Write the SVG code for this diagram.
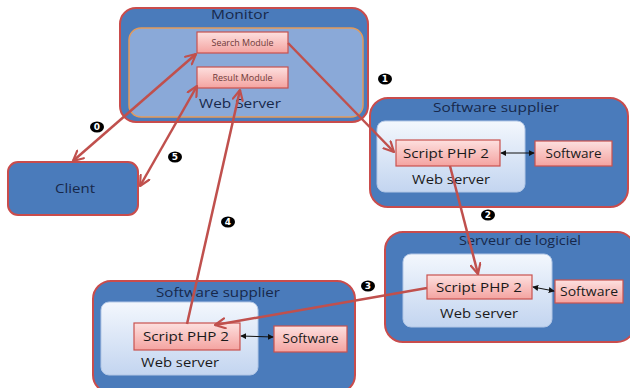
<svg xmlns="http://www.w3.org/2000/svg" width="630" height="388" viewBox="0 0 630 388">
  <defs>
    <linearGradient id="pinkFill" x1="0" y1="0" x2="0" y2="1">
      <stop offset="0" stop-color="#fde0df"/>
      <stop offset="1" stop-color="#f4a3a0"/>
    </linearGradient>
    <linearGradient id="lightFill" x1="0" y1="0" x2="0" y2="1">
      <stop offset="0" stop-color="#f3f7fd"/>
      <stop offset="1" stop-color="#c3d5f0"/>
    </linearGradient>
    <marker id="head" viewBox="0 0 12 12" refX="11" refY="6" markerWidth="12" markerHeight="12" markerUnits="userSpaceOnUse" orient="auto-start-reverse">
      <path d="M1,1 L11,6 L1,11" fill="none" stroke="#c0504d" stroke-width="2.2" stroke-linecap="round" stroke-linejoin="round"/>
    </marker>
    <marker id="tip" viewBox="0 0 8 8" refX="7" refY="4" markerWidth="6" markerHeight="6" markerUnits="userSpaceOnUse" orient="auto-start-reverse">
      <path d="M0,0 L8,4 L0,8 Z" fill="#111"/>
    </marker>
  </defs>
  <style>
    .outer { fill: #4a7bbb; stroke: #c94c4c; stroke-width: 2; }
    .monInner { fill: #8aa9d8; stroke: #e39a5a; stroke-width: 1.5; }
    .inner { fill: url(#lightFill); stroke: #b2c7e6; stroke-width: 1; }
    .pink { fill: url(#pinkFill); stroke: #c9524f; stroke-width: 1.2; }
    .title { font-family: "Open Sans", "Liberation Sans", sans-serif; font-size: 13px; fill: #17284a; text-anchor: middle; }
    .lbl { font-family: "Open Sans", "Liberation Sans", sans-serif; font-size: 12.5px; fill: #1a1a1a; text-anchor: middle; }
    .small { font-family: "Open Sans", "Liberation Sans", sans-serif; font-size: 8.5px; fill: #6e3a38; text-anchor: middle; }
    .conn { stroke: #c0504d; stroke-width: 2.5; fill: none; }
    .thin { stroke: #111; stroke-width: 1; fill: none; }
    .num { font-family: "DejaVu Sans", "Liberation Sans", sans-serif; font-size: 9px; font-weight: bold; fill: #fff; text-anchor: middle; }
  </style>

  <!-- Monitor -->
  <g id="monitor">
    <rect class="outer" x="120" y="8" width="248" height="114" rx="16"/>
    <text class="title" x="240" y="19" textLength="58" lengthAdjust="spacingAndGlyphs">Monitor</text>
    <rect class="monInner" x="129" y="28" width="234" height="89" rx="12"/>
    <g id="search-module">
      <rect class="pink" x="197" y="32" width="91" height="21"/>
      <text class="small" x="242.5" y="45.5" textLength="62" lengthAdjust="spacingAndGlyphs">Search Module</text>
    </g>
    <g id="result-module">
      <rect class="pink" x="197" y="67" width="91" height="21"/>
      <text class="small" x="242.5" y="80.5" textLength="60" lengthAdjust="spacingAndGlyphs">Result Module</text>
    </g>
    <text class="title" x="240" y="108" textLength="82" lengthAdjust="spacingAndGlyphs">Web Server</text>
  </g>

  <!-- Client -->
  <g id="client">
    <rect class="outer" x="8" y="162" width="130" height="53" rx="10"/>
    <text class="title" x="75" y="193" textLength="40" lengthAdjust="spacingAndGlyphs">Client</text>
  </g>

  <!-- Software supplier (top right) -->
  <g id="supplier-top">
    <rect class="outer" x="370" y="98" width="258" height="109" rx="18"/>
    <text class="title" x="496" y="112" textLength="126" lengthAdjust="spacingAndGlyphs">Software supplier</text>
    <rect class="inner" x="377" y="121" width="148" height="71" rx="8"/>
    <rect class="pink" x="396" y="140" width="104" height="26"/>
    <text class="lbl" x="446" y="158" textLength="86" lengthAdjust="spacingAndGlyphs">Script PHP 2</text>
    <text class="lbl" x="451" y="184" textLength="78" lengthAdjust="spacingAndGlyphs">Web server</text>
    <rect class="pink" x="535" y="141" width="77" height="25"/>
    <text class="lbl" x="573.5" y="158" textLength="56" lengthAdjust="spacingAndGlyphs">Software</text>
  </g>

  <!-- Serveur de logiciel (middle right) -->
  <g id="serveur-logiciel">
    <rect class="outer" x="385" y="232" width="250" height="110" rx="18"/>
    <text class="title" x="520" y="245" textLength="122" lengthAdjust="spacingAndGlyphs">Serveur de logiciel</text>
    <rect class="inner" x="403" y="254" width="149" height="73" rx="8"/>
    <rect class="pink" x="427" y="275" width="105" height="24"/>
    <text class="lbl" x="479" y="292" textLength="86" lengthAdjust="spacingAndGlyphs">Script PHP 2</text>
    <text class="lbl" x="479" y="318" textLength="78" lengthAdjust="spacingAndGlyphs">Web server</text>
    <rect class="pink" x="555" y="280" width="68" height="23"/>
    <text class="lbl" x="589" y="296" textLength="58" lengthAdjust="spacingAndGlyphs">Software</text>
  </g>

  <!-- Software supplier (bottom) -->
  <g id="supplier-bottom">
    <rect class="outer" x="93" y="281" width="262" height="112" rx="18"/>
    <text class="title" x="218" y="297" textLength="124" lengthAdjust="spacingAndGlyphs">Software supplier</text>
    <rect class="inner" x="101" y="302" width="157" height="73" rx="8"/>
    <rect class="pink" x="134" y="323" width="106" height="27"/>
    <text class="lbl" x="186" y="341" textLength="86" lengthAdjust="spacingAndGlyphs">Script PHP 2</text>
    <text class="lbl" x="180" y="367" textLength="78" lengthAdjust="spacingAndGlyphs">Web server</text>
    <rect class="pink" x="274" y="326" width="73" height="26"/>
    <text class="lbl" x="310.5" y="343" textLength="56" lengthAdjust="spacingAndGlyphs">Software</text>
  </g>

  <!-- Connectors -->
  <g id="connectors">
    <line class="conn" x1="73" y1="161" x2="196" y2="54" marker-start="url(#head)" marker-end="url(#head)"/>
    <line class="conn" x1="140" y1="186" x2="197" y2="86" marker-start="url(#head)" marker-end="url(#head)"/>
    <line class="conn" x1="187" y1="324" x2="240" y2="90" marker-end="url(#head)"/>
    <line class="conn" x1="288" y1="43" x2="394" y2="152" marker-end="url(#head)"/>
    <line class="conn" x1="450" y1="166" x2="478" y2="274" marker-end="url(#head)"/>
    <line class="conn" x1="427" y1="288" x2="215" y2="325" marker-end="url(#head)"/>
    <line class="thin" x1="501" y1="153" x2="534" y2="153" marker-start="url(#tip)" marker-end="url(#tip)"/>
    <line class="thin" x1="533" y1="287" x2="554" y2="291" marker-start="url(#tip)" marker-end="url(#tip)"/>
    <line class="thin" x1="241" y1="336" x2="273" y2="337" marker-start="url(#tip)" marker-end="url(#tip)"/>
  </g>

  <!-- Step numbers -->
  <g id="steps">
    <ellipse cx="97" cy="127" rx="7" ry="5.5"/>
    <text class="num" x="97" y="130.2">0</text>
    <ellipse cx="385" cy="79" rx="7" ry="5.5"/>
    <text class="num" x="385" y="82.2">1</text>
    <ellipse cx="488" cy="215" rx="7" ry="5.5"/>
    <text class="num" x="488" y="218.2">2</text>
    <ellipse cx="368" cy="286" rx="7" ry="5.5"/>
    <text class="num" x="368" y="289.2">3</text>
    <ellipse cx="228" cy="222" rx="7" ry="5.5"/>
    <text class="num" x="228" y="225.2">4</text>
    <ellipse cx="175" cy="157" rx="7" ry="5.5"/>
    <text class="num" x="175" y="160.2">5</text>
  </g>
</svg>
